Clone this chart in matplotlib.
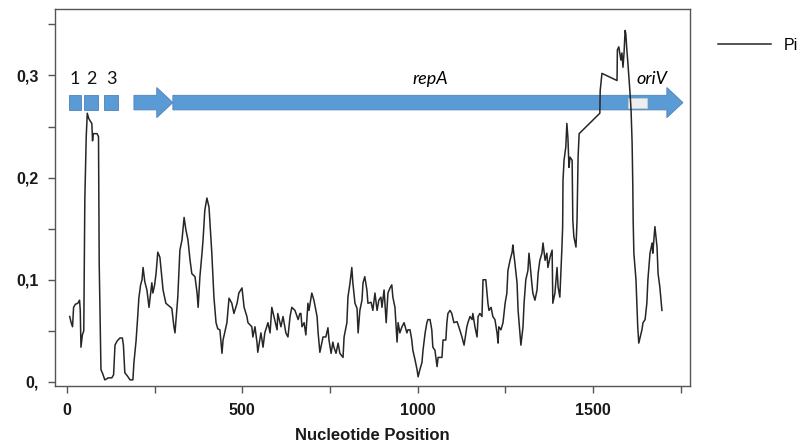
import matplotlib
matplotlib.use("Agg")
import matplotlib.pyplot as plt
from matplotlib.patches import FancyArrow, Rectangle

# nucleotide diversity (Pi) along the sequence, sliding window
posicion = [8, 12, 16, 19, 24, 31, 36, 38, 40, 44, 48, 51, 55, 58, 62, 67, 71, 73, 75, 86,
            90, 92, 97, 102, 108, 118, 128, 133, 137, 143, 151, 158, 161, 165, 172, 180, 188, 191, 197, 201,
            205, 210, 214, 217, 222, 228, 234, 242, 245, 250, 254, 259, 265, 274, 282, 299, 305, 308, 316, 322,
            328, 334, 339, 345, 351, 356, 365, 371, 374, 379, 385, 388, 393, 399, 405, 413, 419, 425, 430, 436,
            442, 445, 456, 462, 470, 476, 485, 490, 499, 505, 513, 516, 527, 530, 536, 542, 544, 553, 559, 564,
            573, 579, 584, 590, 599, 601, 610, 616, 624, 630, 636, 641, 650, 659, 664, 667, 670, 676, 681, 687,
            690, 696, 698, 704, 713, 716, 721, 727, 730, 738, 744, 747, 753, 758, 761, 767, 773, 778, 787, 790,
            798, 801, 807, 812, 815, 821, 827, 830, 835, 841, 844, 849, 855, 858, 867, 872, 878, 884, 889, 895,
            898, 904, 910, 915, 921, 926, 929, 935, 941, 944, 949, 955, 961, 969, 972, 978, 983, 986, 992, 998,
            1001, 1006, 1012, 1015, 1021, 1026, 1029, 1035, 1040, 1043, 1049, 1055, 1058, 1069, 1072, 1080, 1083, 1086, 1092, 1097,
            1103, 1112, 1117, 1126, 1132, 1140, 1143, 1149, 1155, 1157, 1163, 1169, 1172, 1177, 1183, 1186, 1194, 1200, 1203, 1209,
            1214, 1220, 1226, 1229, 1231, 1237, 1243, 1249, 1254, 1257, 1263, 1269, 1271, 1277, 1283, 1286, 1291, 1294, 1300, 1303,
            1308, 1314, 1317, 1320, 1325, 1328, 1334, 1340, 1343, 1348, 1354, 1357, 1363, 1368, 1371, 1377, 1383, 1385, 1391, 1397,
            1400, 1405, 1411, 1413, 1414, 1417, 1422, 1425, 1428, 1431, 1434, 1440, 1442, 1445, 1451, 1454, 1457, 1460, 1519, 1520,
            1525, 1568, 1569, 1573, 1579, 1582, 1585, 1588, 1591, 1593, 1596, 1599, 1605, 1608, 1611, 1613, 1614, 1616, 1622, 1625,
            1627, 1630, 1639, 1642, 1648, 1653, 1656, 1662, 1668, 1670, 1676, 1682, 1685, 1690, 1696]
pi = [0.064, 0.058, 0.054, 0.073, 0.076, 0.077, 0.080, 0.070, 0.034, 0.046, 0.050, 0.178, 0.240, 0.263, 0.258, 0.255, 0.253, 0.236, 0.243, 0.243,
      0.240, 0.116, 0.012, 0.008, 0.002, 0.004, 0.004, 0.007, 0.036, 0.040, 0.043, 0.043, 0.036, 0.009, 0.006, 0.002, 0.002, 0.019, 0.040, 0.060,
      0.082, 0.095, 0.100, 0.112, 0.098, 0.090, 0.073, 0.097, 0.087, 0.095, 0.106, 0.127, 0.122, 0.090, 0.077, 0.072, 0.054, 0.048, 0.083, 0.129,
      0.139, 0.161, 0.149, 0.139, 0.119, 0.106, 0.103, 0.087, 0.073, 0.103, 0.126, 0.139, 0.168, 0.180, 0.171, 0.126, 0.083, 0.058, 0.052, 0.051,
      0.028, 0.041, 0.058, 0.082, 0.077, 0.067, 0.077, 0.087, 0.092, 0.073, 0.064, 0.058, 0.054, 0.044, 0.054, 0.038, 0.029, 0.048, 0.034, 0.048,
      0.058, 0.048, 0.073, 0.064, 0.051, 0.067, 0.054, 0.064, 0.048, 0.044, 0.064, 0.073, 0.070, 0.061, 0.067, 0.067, 0.054, 0.058, 0.046, 0.077,
      0.070, 0.083, 0.087, 0.080, 0.064, 0.048, 0.029, 0.039, 0.044, 0.044, 0.053, 0.041, 0.028, 0.039, 0.034, 0.028, 0.038, 0.028, 0.024, 0.044,
      0.058, 0.083, 0.097, 0.112, 0.097, 0.077, 0.072, 0.048, 0.070, 0.080, 0.097, 0.103, 0.090, 0.077, 0.078, 0.070, 0.087, 0.070, 0.080, 0.083,
      0.073, 0.090, 0.058, 0.087, 0.092, 0.095, 0.083, 0.073, 0.039, 0.058, 0.048, 0.054, 0.058, 0.048, 0.051, 0.051, 0.041, 0.031, 0.022, 0.012,
      0.005, 0.012, 0.019, 0.031, 0.048, 0.058, 0.061, 0.061, 0.051, 0.034, 0.031, 0.015, 0.024, 0.024, 0.041, 0.041, 0.058, 0.067, 0.070, 0.067,
      0.058, 0.059, 0.054, 0.044, 0.036, 0.054, 0.058, 0.064, 0.061, 0.067, 0.054, 0.044, 0.064, 0.067, 0.064, 0.100, 0.100, 0.077, 0.070, 0.073,
      0.064, 0.061, 0.048, 0.038, 0.054, 0.051, 0.058, 0.077, 0.087, 0.109, 0.119, 0.127, 0.134, 0.116, 0.097, 0.070, 0.048, 0.036, 0.054, 0.077,
      0.100, 0.109, 0.126, 0.116, 0.097, 0.087, 0.080, 0.090, 0.106, 0.119, 0.126, 0.136, 0.119, 0.126, 0.112, 0.122, 0.129, 0.077, 0.087, 0.112,
      0.093, 0.083, 0.132, 0.152, 0.197, 0.217, 0.230, 0.253, 0.239, 0.210, 0.220, 0.217, 0.158, 0.142, 0.132, 0.158, 0.220, 0.243, 0.263, 0.285,
      0.302, 0.295, 0.325, 0.328, 0.315, 0.322, 0.308, 0.322, 0.344, 0.341, 0.325, 0.312, 0.283, 0.266, 0.234, 0.191, 0.158, 0.126, 0.100, 0.073,
      0.054, 0.038, 0.051, 0.058, 0.061, 0.077, 0.100, 0.126, 0.136, 0.126, 0.152, 0.132, 0.106, 0.093, 0.070]

# gene map drawn above the curve (nucleotide coordinates)
cajas = [(6, 40), (48, 88), (105, 145)]
cajas_txt = ["1", "2", "3"]
cajas_x = [23, 69, 128]
flecha1 = (191, 302)
repA = (302, 1756)
oriV = (1599, 1653)

xticks = [0, 500, 1000, 1500]
yticks = [0, 0.1, 0.2, 0.3]
ytick_txt = ["0,", "0,1", "0,2", "0,3"]

azul = "#5B9BD5"
borde = "#4F81BD"

fig = plt.figure(figsize=(8, 4.46), dpi=100)
ax = fig.add_axes([0.06875, 0.1345, 0.79375, 0.8453])

linea, = ax.plot(posicion, pi, color="#262626", lw=1.1, label="Pi", zorder=5)

yc = 0.2734
ancho = 0.0143
cabeza = 0.0295
largo_cabeza = 46

for (a, b) in cajas:
    ax.add_patch(Rectangle((a, yc - ancho / 2), b - a, ancho, facecolor=azul,
                           edgecolor=borde, lw=0.6, zorder=3))
for txt, xx in zip(cajas_txt, cajas_x):
    ax.text(xx, 0.2915, txt, fontsize=13, family="Lato", ha="center", va="baseline", color="#111111")

for (a, b) in [flecha1, repA]:
    ax.add_patch(FancyArrow(a, yc, b - a, 0, width=ancho, head_width=cabeza,
                            head_length=largo_cabeza, length_includes_head=True,
                            facecolor=azul, edgecolor=borde, lw=0.6, zorder=3))

ax.add_patch(Rectangle((oriV[0], yc - 0.0049), oriV[1] - oriV[0], 0.0098,
                       facecolor="#EEEEEE", edgecolor="#D0D0D0", lw=0.5, zorder=4))

ax.text(1035, 0.2915, "repA", fontsize=13, family="Lato", style="italic", ha="center", va="baseline")
ax.text(1668, 0.2915, "oriV", fontsize=13, family="Lato", style="italic", ha="center", va="baseline")

ax.set_xlim(-34, 1776)
ax.set_ylim(-0.004, 0.365)

ax.set_xticks(xticks)
ax.set_xticks([250, 750, 1250, 1750], minor=True)
ax.set_yticks(yticks)
ax.set_yticklabels(ytick_txt)
ax.set_yticks([0.05, 0.15, 0.25, 0.35], minor=True)

for s in ax.spines.values():
    s.set_color("#555555")
    s.set_linewidth(1.0)
ax.tick_params(which="both", direction="out", length=5, width=1, color="#555555")
ax.tick_params(which="major", pad=7)
for lab in ax.get_xticklabels() + ax.get_yticklabels():
    lab.set_fontfamily("Liberation Sans")
    lab.set_fontweight("bold")
    lab.set_fontsize(11.5)
    lab.set_color("#1a1a1a")

fig.text(372 / 800, 1 - 435 / 446, "Nucleotide Position", ha="center", va="center",
         fontsize=12, fontweight="bold", family="Liberation Sans", color="#1a1a1a")

fig.legend(handles=[linea], loc="center left", bbox_to_anchor=(718 / 800, 1 - 45 / 446),
           frameon=False, handlelength=3.3, handletextpad=0.8, borderpad=0, borderaxespad=0,
           prop={"family": "Liberation Sans", "size": 11.5})

fig.savefig("out.png", dpi=100)
